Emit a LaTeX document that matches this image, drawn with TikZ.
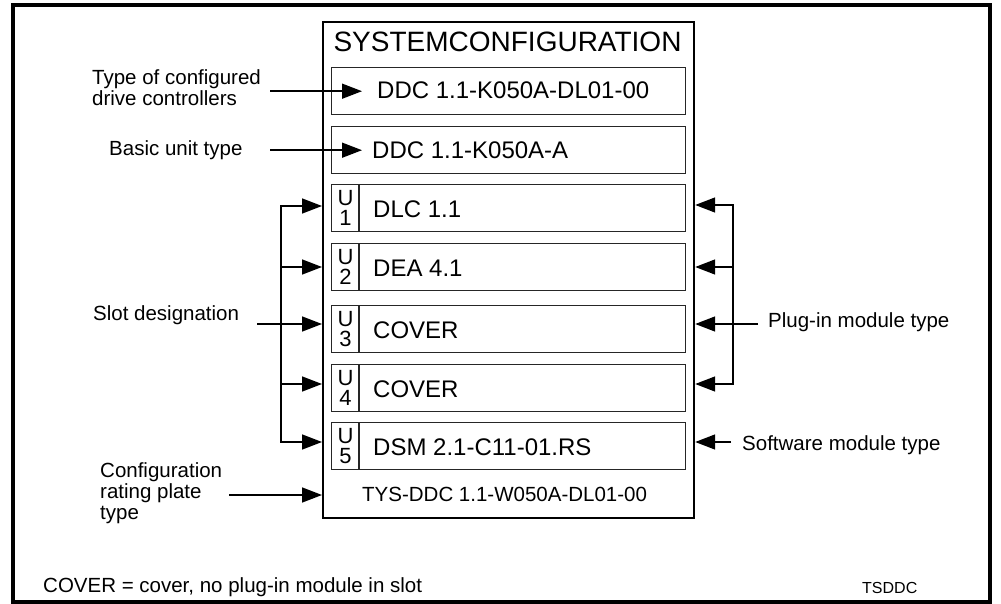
\documentclass[tikz,border=0pt]{standalone}
\usepackage{fontspec}
\setmainfont{Liberation Sans}
\usetikzlibrary{arrows.meta}
\begin{document}
\begin{tikzpicture}[x=1pt,y=-1pt,
  frame/.style={line width=4pt},
  mainbox/.style={draw, line width=2.2pt, minimum width=371pt, minimum height=496pt, inner sep=0pt, anchor=north west},
  ibox/.style={draw=black!85, line width=1.4pt, minimum width=354pt, minimum height=47pt, inner sep=0pt, anchor=north west},
  iline/.style={draw=black!85, line width=1.4pt},
  boxtxt/.style={font=\fontsize{24}{26}\selectfont, inner sep=0pt, anchor=west, text height=17.2pt, text depth=0pt},
  lbl/.style={font=\fontsize{20.5}{21.5}\selectfont, inner sep=0pt, anchor=west, text height=14.7pt, text depth=0pt},
  mlbl/.style={font=\fontsize{20.5}{21}\selectfont, inner sep=0pt, anchor=west, align=left},
  ulbl/.style={font=\fontsize{22}{20}\selectfont, inner sep=0pt, align=center},
  conn/.style={line width=1.5pt, line cap=rect},
  arr/.style={line width=1.5pt, -{Triangle[length=20pt,width=15pt]}},
]
\useasboundingbox (0,0) rectangle (1001,604);
\draw[frame] (12.5,5) rectangle (990,602);

% main box
\node[mainbox] (main) at (322,21) {};
\node[font=\fontsize{28}{30}\selectfont, inner sep=0pt, text height=20pt, text depth=0pt] (title) at (507.5,42) {SYSTEMCONFIGURATION};

% top boxes
\node[ibox] (b1) at (331,67) {};
\node[boxtxt] (t1) at (377,89.5) {DDC 1.1-K050A-DL01-00};
\node[ibox] (b2) at (331,126) {};
\node[boxtxt] (t2) at (372,149.5) {DDC 1.1-K050A-A};

% slot boxes
\foreach \i/\y/\txt in {1/184/DLC 1.1, 2/243/DEA 4.1, 3/305/COVER, 4/364/COVER, 5/422/DSM 2.1-C11-01.RS}{
  \node[ibox] (u\i) at (331,\y) {};
  \draw[iline] ([xshift=28pt]u\i.north west) -- ([xshift=28pt]u\i.south west);
  \node[ulbl] (ul\i) at ([xshift=14.5pt]u\i.west) {U\\\i};
  \node[boxtxt] (ut\i) at ([xshift=42pt,yshift=-1pt]u\i.west) {\txt};
}

\node[lbl] (plate) at (362,494.5) {TYS-DDC 1.1-W050A-DL01-00};

% labels
\node[mlbl] (l1) at (92,88) {Type of configured\\drive controllers};
\node[lbl] (l2) at (109,148.5) {Basic unit type};
\node[lbl] (l3) at (93,313) {Slot designation};
\node[mlbl] (l4) at (100,493) {Configuration\\rating plate\\type};
\node[lbl] (l5) at (768,320) {Plug-in module type};
\node[lbl] (l6) at (742,443) {Software module type};
\node[lbl] (note) at (43,585) {COVER = cover, no plug-in module in slot};
\node[lbl, font=\fontsize{16}{18}\selectfont, text height=11.5pt] (code) at (862,588) {TSDDC};

% connector end points
\coordinate (L1) at (281,206);
\coordinate (L2) at (281,267);
\coordinate (L3) at (257,324);
\coordinate (L4) at (281,384);
\coordinate (L5) at (281,442);
\coordinate (R1) at (733,205);
\coordinate (R2) at (733,267);
\coordinate (R3) at (758,324);
\coordinate (R4) at (733,384);
\coordinate (S) at (731,442);
\coordinate (C) at (229,495);

% top arrows
\draw[arr] ([xshift=-61pt]b1.west) -- ([xshift=31pt]b1.west);
\draw[arr] ([xshift=-61pt]b2.west) -- ([xshift=31pt]b2.west);

% left bus
\draw[conn] (L1) -- (L5);
\foreach \p in {L1,L2,L3,L4,L5}{
  \draw[arr] (\p) -- (main.west |- \p);
}
\draw[arr] (C) -- (main.west |- C);

% right bus
\draw[conn] (R1) -- (R4);
\foreach \p in {R1,R2,R3,R4}{
  \draw[arr] (\p) -- (main.east |- \p);
}
\draw[arr] (S) -- (main.east |- S);
\end{tikzpicture}
\end{document}
